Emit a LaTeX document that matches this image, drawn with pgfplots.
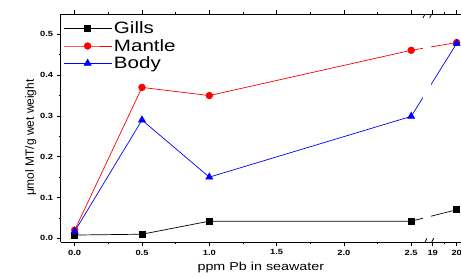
\documentclass[border=0pt]{standalone}
\usepackage{fontspec}
\setmainfont{Liberation Sans}[FakeStretch=1.25]
\newfontfamily\plainfont{Liberation Sans}
\usepackage{pgfplots}
\pgfplotsset{compat=1.18}
\usetikzlibrary{calc}
\begin{document}
\begin{tikzpicture}
\begin{axis}[
  scale only axis,
  width=400.3bp, height=228.3bp,
  xmin=-0.104, xmax=2.87,
  ymin=-0.0098, ymax=0.55,
  axis y line*=left,
  axis on top,
  tick align=outside,
  xtick pos=both,
  ytick pos=left,
  xtick={0,0.5,1,1.5,2,2.5,2.66,2.838},
  xticklabels={0.0,0.5,1.0,1.5,2.0,2.5,19,20},
  minor xtick={0.25,0.75,1.25,1.75,2.25,2.749},
  ytick={0,0.1,0.2,0.3,0.4,0.5},
  minor ytick={0.05,0.15,0.25,0.35,0.45},
  yticklabel style={/pgf/number format/.cd,fixed,fixed zerofill,precision=1},
  /pgf/number format/assume math mode=true,
  major tick length=4bp, minor tick length=2bp,
  tick style={black, line width=0.6bp},
  axis line style={black, line width=0.8bp},
  ticklabel style={font=\fontsize{7.5}{8}\selectfont\bfseries},
  xlabel={ppm Pb in seawater},
  ylabel={μmol MT/g wet weight},
  xlabel style={font=\fontsize{11.5}{13}\selectfont},
  ylabel style={font=\plainfont\fontsize{12}{13}\selectfont, yshift=-3bp, xshift=-9.5bp},
  legend style={draw=none, fill=none, at={(0.006,0.975)}, anchor=north west,
    font=\fontsize{16.5}{18}\selectfont, inner sep=0pt, row sep=0bp},
  legend cell align=left,
  legend image code/.code={\draw[mark repeat=2,mark phase=2] plot coordinates {(0bp,0bp)(24bp,0bp)(48bp,0bp)};},
]
\addplot[black, line width=0.7bp, mark=square*, mark size=3bp, mark options={solid}] coordinates {
 (0,0.008) (0.5,0.010) (1,0.042) (2.5,0.042) (2.838,0.070)};
\addlegendentry{Gills}
\addplot[red, line width=0.7bp, mark=*, mark size=3.3bp] coordinates {
 (0,0.020) (0.5,0.370) (1,0.350) (2.5,0.461) (2.838,0.480)};
\addlegendentry{Mantle}
\addplot[blue, line width=0.7bp, mark=triangle*, mark size=4bp] coordinates {
 (0,0.017) (0.5,0.290) (1,0.150) (2.5,0.299) (2.838,0.478)};
\addlegendentry{Body}
\fill[white] (axis cs:2.59,-0.004) rectangle (axis cs:2.645,0.544);
\draw[black, line width=0.8bp] (axis cs:2.6025,-0.0098) ++(-2bp,-4bp) -- ++(4bp,8bp);
\draw[black, line width=0.8bp] (axis cs:2.652,-0.0098) ++(-2bp,-4bp) -- ++(4bp,8bp);
\draw[black, line width=0.8bp] (axis cs:2.6025,0.55) ++(-2bp,-4bp) -- ++(4bp,8bp);
\draw[black, line width=0.8bp] (axis cs:2.652,0.55) ++(-2bp,-4bp) -- ++(4bp,8bp);
\end{axis}
\pgfresetboundingbox
\path ($(current axis.south west)+(-60.7bp,-34.7bp)$) rectangle ($(current axis.north east)+(0bp,14bp)$);
\end{tikzpicture}
\end{document}
